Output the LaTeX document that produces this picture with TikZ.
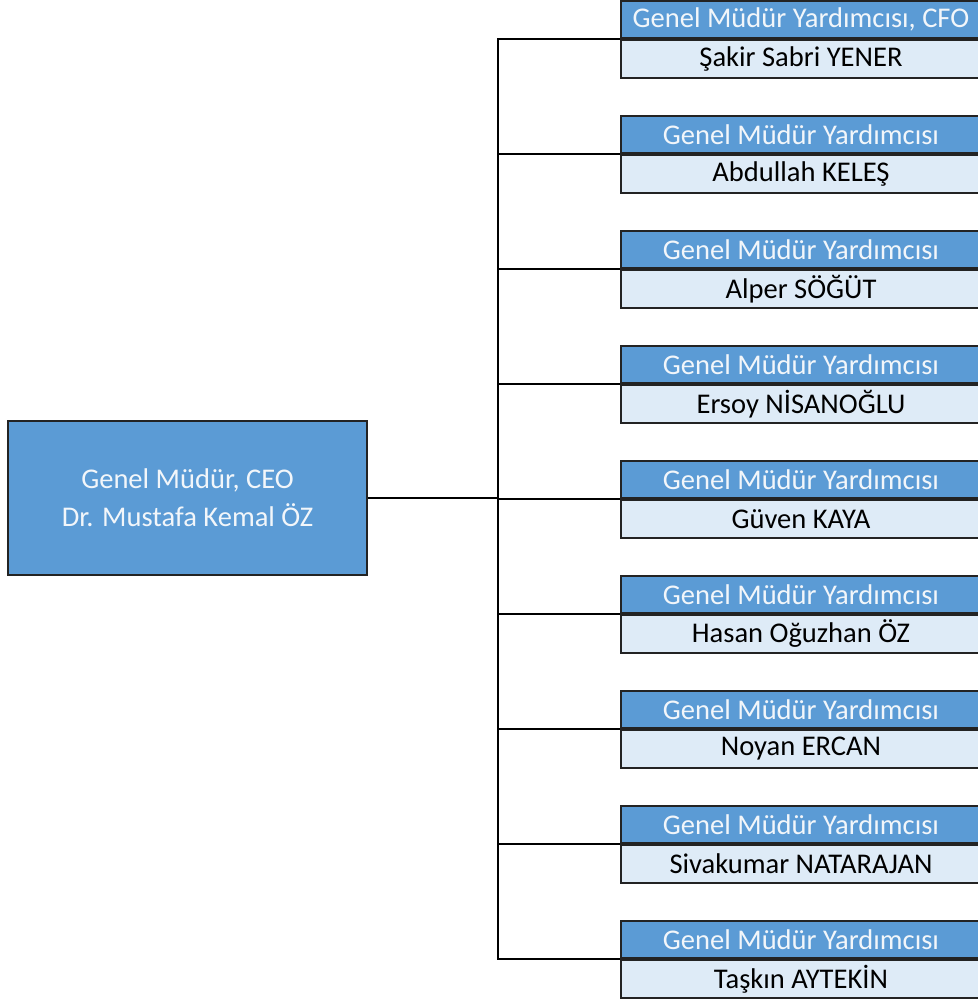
\documentclass[tikz,border=0pt]{standalone}
\usepackage{fontspec}
\setmainfont{Carlito}

\definecolor{headblue}{RGB}{91,155,213}
\definecolor{namebg}{RGB}{222,235,247}
\definecolor{frame}{RGB}{35,35,35}
\definecolor{headtext}{RGB}{242,246,250}

\begin{document}
\begin{tikzpicture}[x=0.75pt, y=-0.75pt, line width=1.3pt,
	ceobox/.style={draw=frame, fill=headblue, text=headtext, align=center,
		minimum width=269pt, minimum height=115.5pt, inner sep=0pt,
		font=\fontsize{21.4}{28.5}\selectfont},
	titlebox/.style={draw=frame, fill=headblue, text=headtext,
		minimum width=270pt, minimum height=28pt, inner sep=0pt,
		font=\fontsize{21.4}{24}\selectfont},
	namebox/.style={draw=frame, fill=namebg, text=black,
		minimum width=270pt, minimum height=28.5pt, inner sep=0pt,
		font=\fontsize{21.4}{24}\selectfont}]

	% page
	\useasboundingbox (0, 0) rectangle (978, 1001);
	\clip (0, 0) rectangle (978, 1001);

	% chief
	\node[ceobox] (ceo) at (187.5, 498) {Genel Müdür, CEO\\Dr. Mustafa Kemal ÖZ};
	\coordinate (fork) at (498, 498);
	\draw (ceo.east) -- (fork);

	% deputies
	\foreach \title/\name [count=\i from 0] in {
		{Genel Müdür Yardımcısı, CFO}/Şakir Sabri YENER,
		Genel Müdür Yardımcısı/Abdullah KELEŞ,
		Genel Müdür Yardımcısı/Alper SÖĞÜT,
		Genel Müdür Yardımcısı/Ersoy NİSANOĞLU,
		Genel Müdür Yardımcısı/Güven KAYA,
		Genel Müdür Yardımcısı/Hasan Oğuzhan ÖZ,
		Genel Müdür Yardımcısı/Noyan ERCAN,
		Genel Müdür Yardımcısı/Sivakumar NATARAJAN,
		Genel Müdür Yardımcısı/Taşkın AYTEKİN} {
		\node[titlebox] (title\i) at (801, 19.5 + 115*\i) {\title};
		\node[namebox, anchor=north] (name\i) at (title\i.south) {\name};
		\draw (fork) |- (title\i.south west);
	}
\end{tikzpicture}
\end{document}
